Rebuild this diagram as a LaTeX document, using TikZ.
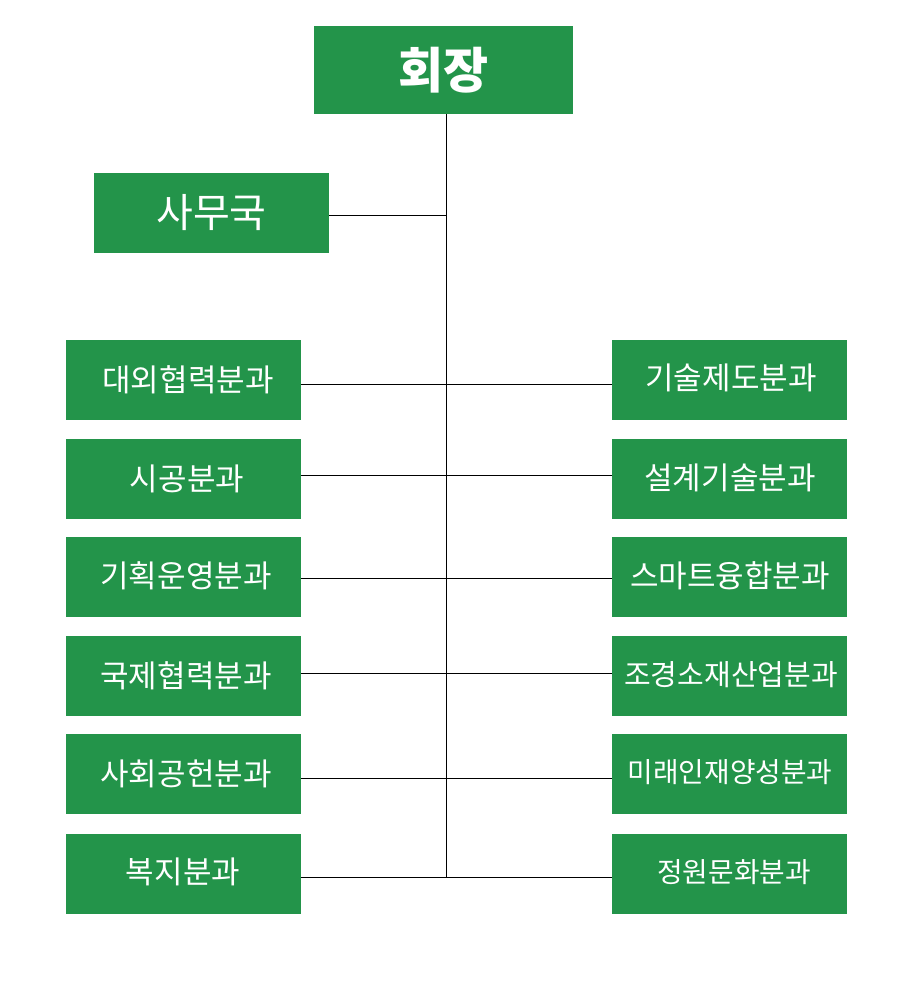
\documentclass[tikz,border=0pt]{standalone}
\usepackage{fontspec}
\newfontfamily\kr{Noto Sans CJK KR}
\definecolor{boxgreen}{HTML}{23944A}
\begin{document}
\begin{tikzpicture}[x=1pt,y=-1pt,
  box/.style={fill=boxgreen,draw=none,minimum width=235pt,minimum height=80pt,inner sep=0pt,text=white,font=\kr\fontsize{31}{33}\selectfont},
  lbl/.style={text=white,inner sep=0pt,font=\kr\fontsize{31}{33}\selectfont},
  conn/.style={draw=black,line width=0.9pt}]
\useasboundingbox (0,0) rectangle (912,996);
% top nodes
\node[box,minimum width=259pt,minimum height=88pt,font=\kr\bfseries\fontsize{49}{52}\selectfont] (pres) at (443.5,70) {회장};
\node[box,font=\kr\fontsize{40}{44}\selectfont] (sec) at (211.5,213) {사무국};
% left column
\node[box] (L1) at (183.5,380) {}; \node[lbl] (tL1) at (188,380) {대외협력분과};
\node[box] (L2) at (183.5,479) {}; \node[lbl] (tL2) at (187,479) {시공분과};
\node[box] (L3) at (183.5,577) {}; \node[lbl] (tL3) at (186,576) {기획운영분과};
\node[box] (L4) at (183.5,676) {}; \node[lbl] (tL4) at (186,676) {국제협력분과};
\node[box] (L5) at (183.5,774) {}; \node[lbl] (tL5) at (186,774) {사회공헌분과};
\node[box] (L6) at (183.5,874) {}; \node[lbl] (tL6) at (183,872) {복지분과};
% right column
\node[box] (R1) at (729.5,380) {}; \node[lbl] (tR1) at (731,378) {기술제도분과};
\node[box] (R2) at (729.5,479) {}; \node[lbl] (tR2) at (730,478) {설계기술분과};
\node[box] (R3) at (729.5,577) {}; \node[lbl] (tR3) at (730,576) {스마트융합분과};
\node[box] (R4) at (729.5,676) {}; \node[lbl,font=\kr\fontsize{29}{31}\selectfont] (tR4) at (731,675) {조경소재산업분과};
\node[box] (R5) at (729.5,774) {}; \node[lbl,font=\kr\fontsize{27.8}{30}\selectfont] (tR5) at (730,772) {미래인재양성분과};
\node[box] (R6) at (729.5,874) {}; \node[lbl,font=\kr\fontsize{27.8}{30}\selectfont] (tR6) at (734,872) {정원문화분과};
% connectors
\coordinate (sb) at (446,877);
\coordinate (j0) at (446,215);
\coordinate (j1) at (446,384);
\coordinate (j2) at (446,475);
\coordinate (j3) at (446,578);
\coordinate (j4) at (446,673);
\coordinate (j5) at (446,778);
\draw[conn] (pres.south -| sb) -- (sb);
\draw[conn] (sec.east |- j0) -- (j0);
\draw[conn] (L1.east |- j1) -- (R1.west |- j1);
\draw[conn] (L2.east |- j2) -- (R2.west |- j2);
\draw[conn] (L3.east |- j3) -- (R3.west |- j3);
\draw[conn] (L4.east |- j4) -- (R4.west |- j4);
\draw[conn] (L5.east |- j5) -- (R5.west |- j5);
\draw[conn] (L6.east |- sb) -- (R6.west |- sb);
\end{tikzpicture}
\end{document}
